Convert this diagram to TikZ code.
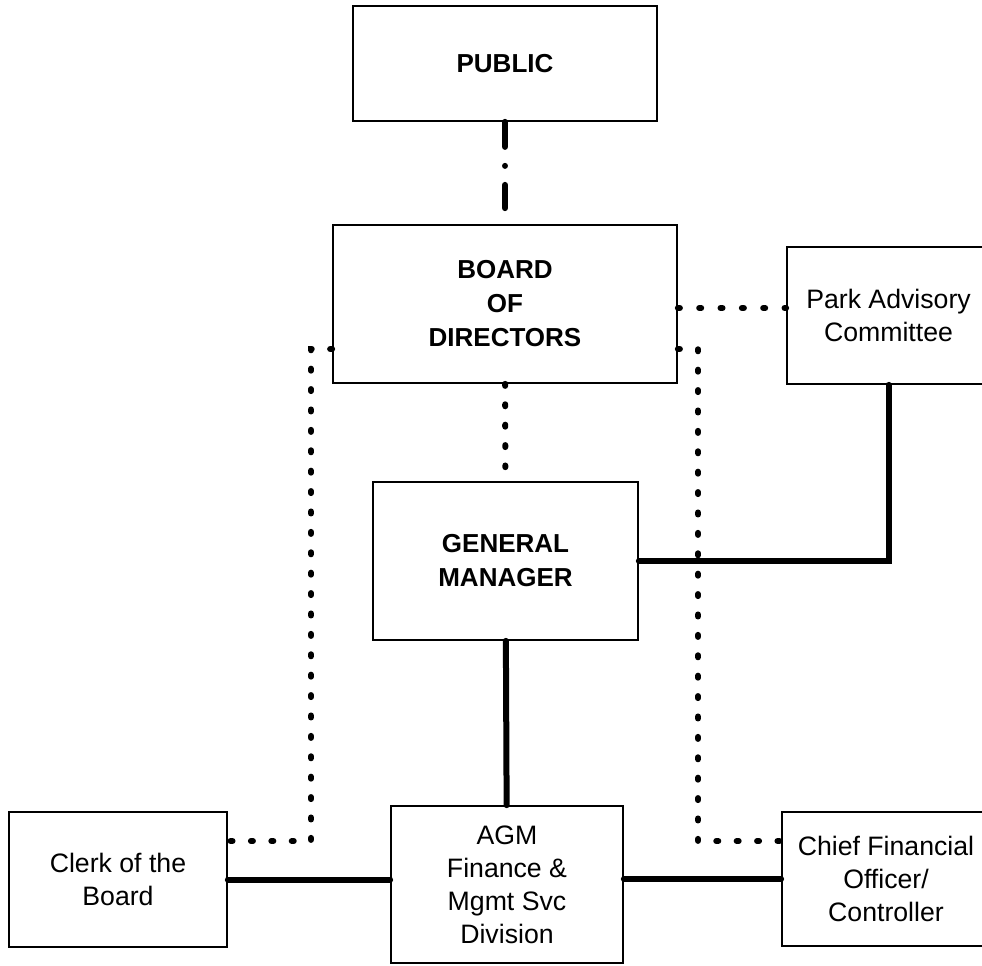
\documentclass[tikz,border=0pt]{standalone}
\usepackage{fontspec}
\setmainfont{Liberation Sans}
\tikzset{
	unit/.style={draw, line width=1.3pt, inner sep=0pt, align=center, font=\fontsize{20}{24.75}\selectfont},
	head/.style={unit, font=\bfseries\fontsize{19.5}{25.5}\selectfont},
	solidline/.style={line width=4.5pt, line cap=round},
	dotline/.style={line width=4.5pt, line cap=round, dash pattern=on 1.5pt off #1},
	dotline/.default=13.8pt,
	dashdotline/.style={line width=4.5pt, line cap=round, dash pattern=on 18.75pt off 14.25pt on 0.01pt off 14.25pt}
}
\begin{document}
\begin{tikzpicture}[x=0.75pt,y=-0.75pt]
		\useasboundingbox (0,0) rectangle (982,965);
		
		\node[head, minimum width=228pt, minimum height=86.25pt] (public) at (505,63.5) {PUBLIC};
		\node[head, minimum width=258pt, minimum height=118.5pt] (board) at (505,304) {BOARD\\OF\\DIRECTORS};
		\node[unit, minimum width=152.25pt, minimum height=102.75pt] (park) at (888.5,315.5) {Park Advisory\\Committee};
		\node[head, minimum width=198.75pt, minimum height=118.5pt] (gm) at (505.5,561) {GENERAL\\MANAGER};
		\node[unit, minimum width=163.5pt, minimum height=101.25pt] (clerk) at (118,879.5) {Clerk of the\\Board};
		\node[unit, minimum width=174pt, minimum height=117.75pt] (agm) at (507,884.5) {AGM\\Finance \&\\Mgmt Svc\\Division};
		\node[unit, minimum width=156pt, minimum height=100.5pt] (cfo) at (886,879) {Chief Financial\\Officer/\\Controller};
		
		\coordinate (lbend) at (311,841);
		\coordinate (rbend) at (698,841);
		
		\draw[dashdotline, shorten >=12pt] (public) -- (board);
		\draw[dotline, shorten >=10.5pt] (board) -- (gm);
		\draw[dotline=14.5pt] ([yshift=-3pt]board.east) -- ([yshift=-3pt]board.east -| park.west);
		\draw[dotline] ([yshift=-33.75pt]board.east) -| (rbend) -- (rbend -| cfo.west);
		\draw[dotline] ([yshift=-33.75pt]board.west) -| (lbend) -- (lbend -| clerk.east);
		
		\draw[solidline] (gm) -- (agm);
		\draw[solidline] (gm.east) -| (park.south);
		\draw[solidline] (clerk.east) -- (clerk.east -| agm.west);
		\draw[solidline] (cfo.west -| agm.east) -- (cfo.west);
		
\end{tikzpicture}
\end{document}
